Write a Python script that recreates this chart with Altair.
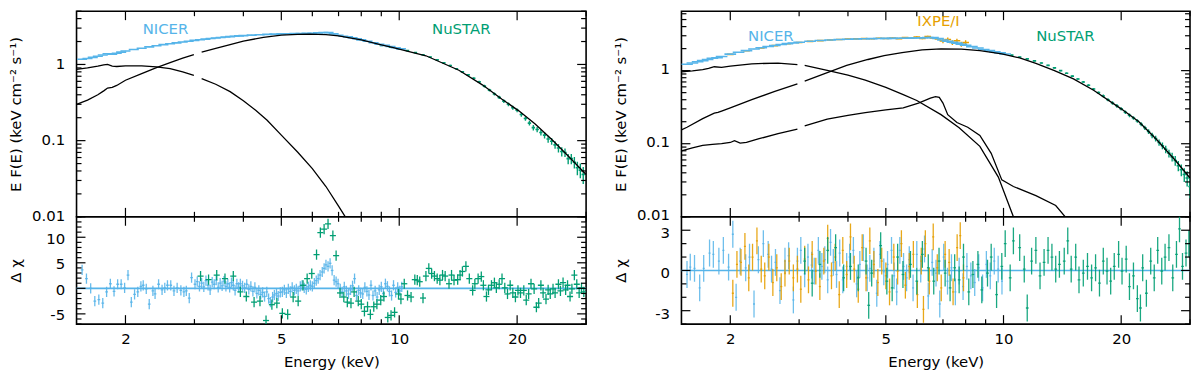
import altair as alt
import pandas as pd

FONT = "DejaVu Sans"
BLUE = "#56B4E9"
GREEN = "#009E73"
ORANGE = "#E69F00"

# ---------------- axis ticks ----------------
X_MAJ = [2, 5, 10, 20]
X_MIN = [3, 4, 6, 7, 8, 9, 30]
Y_MAJ = [0.01, 0.1, 1]
Y_MIN_L = [0.02, 0.03, 0.04, 0.05, 0.06, 0.07, 0.08, 0.09,
           0.2, 0.3, 0.4, 0.5, 0.6, 0.7, 0.8, 0.9, 2, 3, 4, 5]
Y_MIN_R = Y_MIN_L + [6]
R_MAJ_L = [-5, 0, 5, 10]
R_MIN_L = [-7, -6, -4, -3, -2, -1, 1, 2, 3, 4, 6, 7, 8, 9, 11, 12, 13, 14]
R_MAJ_R = [-3, 0, 3]
R_MIN_R = [-4, -2, -1, 1, 2, 4]

# ================= LEFT PANEL =================
L_DISK_E = [1.5, 1.6, 1.7, 1.76, 1.8, 1.85, 1.9, 2.0, 2.2, 2.4, 2.6, 2.8, 2.99,
            3.13, 3.4, 3.7, 4.0, 4.3, 4.6, 5.0, 5.5, 6.0, 6.5, 7.0, 7.3, 7.6]
L_DISK_F = [0.86, 0.90, 0.95, 0.99, 1.00, 0.95, 0.94, 0.96, 0.96, 0.93, 0.88, 0.80, 0.72,
            0.65, 0.55, 0.44, 0.333, 0.25, 0.185, 0.118, 0.071, 0.043, 0.025, 0.0138, 0.0098, 0.0072]
L_DISK_SEG = [1] * 13 + [2] * 13

L_COMP_E = [1.5, 1.6, 1.7, 1.76, 1.8, 1.85, 1.9, 2.0, 2.2, 2.4, 2.6, 2.8, 2.99,
            3.13, 3.4, 3.7, 4.0, 4.5, 5.0, 5.5, 5.9, 6.5, 7.0, 8.0, 9.0, 9.6, 10.0,
            11.7, 14.2, 16.3, 18.3, 20.2, 22.2, 24.6, 27.0, 30.0]
L_COMP_F = [0.30, 0.34, 0.40, 0.45, 0.49, 0.50, 0.53, 0.62, 0.76, 0.91, 1.06, 1.21, 1.35,
            1.45, 1.62, 1.82, 2.02, 2.27, 2.42, 2.49, 2.50, 2.46, 2.37, 2.10, 1.81, 1.67, 1.59,
            1.30, 0.84, 0.54, 0.35, 0.246, 0.167, 0.102, 0.063, 0.036]
L_COMP_SEG = [1] * 13 + [2] * 23

L_NI_E = [1.55, 1.6, 1.65, 1.7, 1.75, 1.8, 1.85, 1.9, 1.95,
          2.0, 2.1, 2.2, 2.3, 2.4, 2.5, 2.6, 2.7, 2.8, 2.9,
          3.0, 3.1, 3.2, 3.3, 3.4, 3.5, 3.6, 3.7, 3.8, 3.9,
          4.0, 4.2, 4.4, 4.6, 4.8, 5.0, 5.2, 5.4, 5.6, 5.8,
          6.0, 6.2, 6.4, 6.6, 6.8, 7.0, 7.2, 7.4, 7.6, 7.8,
          8.0, 8.3, 8.6, 8.9, 9.2, 9.5, 9.8, 10.1]
L_NI_F = [1.17, 1.20, 1.24, 1.28, 1.33, 1.38, 1.36, 1.40, 1.45,
          1.50, 1.57, 1.63, 1.70, 1.76, 1.82, 1.87, 1.92, 1.97, 2.02,
          2.07, 2.11, 2.15, 2.19, 2.23, 2.26, 2.29, 2.32, 2.35, 2.37,
          2.39, 2.43, 2.46, 2.48, 2.50, 2.52, 2.53, 2.54, 2.55, 2.56,
          2.57, 2.60, 2.63, 2.62, 2.52, 2.42, 2.35, 2.30, 2.24, 2.17,
          2.10, 2.02, 1.93, 1.84, 1.78, 1.72, 1.66, 1.60]
L_NI_ERR = [0.015] * 19 + [0.02] * 30 + [0.03] * 8

L_NU_E = [9.0, 9.5, 10.0, 10.5, 11.0, 11.5, 12.0, 12.5, 13.0, 13.5,
          14.0, 14.5, 15.0, 15.5, 16.0, 16.5, 17.0, 17.5, 18.0, 18.5,
          19.0, 19.5, 20.0, 20.5, 21.0, 21.5, 22.0, 22.5, 23.0, 23.5,
          24.0, 24.5, 25.0, 25.5, 26.0, 26.5, 27.0, 27.5, 28.0, 28.5,
          29.0, 29.5]
L_NU_F = [1.78, 1.69, 1.60, 1.52, 1.43, 1.34, 1.25, 1.15, 1.05, 0.97,
          0.88, 0.80, 0.73, 0.66, 0.59, 0.52, 0.46, 0.41, 0.37, 0.33,
          0.30, 0.27, 0.25, 0.22, 0.195, 0.17, 0.148, 0.14, 0.128, 0.118,
          0.105, 0.098, 0.088, 0.080, 0.072, 0.070, 0.058, 0.058, 0.052, 0.044,
          0.041, 0.036]
L_NU_ERR = [0.02] * 18 + [0.018, 0.018, 0.017, 0.016, 0.015, 0.014, 0.013, 0.012,
                          0.012, 0.011, 0.011, 0.011, 0.011, 0.010, 0.010, 0.010,
                          0.010, 0.009, 0.009, 0.009, 0.009, 0.009, 0.009, 0.009]

L_NI_RE = [1.55, 1.59, 1.63, 1.67, 1.71, 1.75, 1.79, 1.83, 1.87, 1.91,
           1.95, 1.99, 2.03, 2.07, 2.11, 2.15, 2.19, 2.22, 2.26, 2.30,
           2.35, 2.38, 2.43, 2.48, 2.52, 2.56, 2.61, 2.66, 2.71, 2.77,
           2.82, 2.86, 2.91, 2.95, 3.01, 3.05, 3.09, 3.13, 3.17, 3.21,
           3.25, 3.29, 3.33, 3.37, 3.41, 3.45, 3.49, 3.53, 3.57, 3.61,
           3.65, 3.69, 3.73, 3.77, 3.81, 3.85, 3.89, 3.93, 3.98, 4.03,
           4.08, 4.13, 4.18, 4.23, 4.28, 4.33, 4.38, 4.43, 4.48, 4.53,
           4.59, 4.64, 4.69, 4.75, 4.80, 4.86, 4.91, 4.97, 5.03, 5.09,
           5.15, 5.21, 5.27, 5.33, 5.40, 5.46, 5.52, 5.59, 5.65, 5.72,
           5.79, 5.86, 5.93, 6.00, 6.07, 6.14, 6.21, 6.28, 6.36, 6.43,
           6.50, 6.58, 6.66, 6.74, 6.82, 6.90, 6.98, 7.07, 7.15, 7.24,
           7.33, 7.42, 7.51, 7.60, 7.69, 7.78, 7.88, 7.97, 8.07, 8.17,
           8.27, 8.37, 8.47, 8.57, 8.68, 8.78, 8.89, 9.00, 9.11, 9.22,
           9.33, 9.44, 9.56, 9.67, 9.79, 9.91, 10.03, 10.15]
L_NI_R = [3.6, 1.9, 0.0, -2.5, -2.2, -2.9, -0.7, 0.9, -0.6, 0.8,
          0.8, 0.1, 2.6, -2.7, -1.2, -0.7, 0.4, 0.6, -0.1, -3.1,
          -0.5, -1.1, 0.8, -0.3, 0.1, 0.6, 0.6, -0.5, 0.1, -0.4,
          -0.7, -0.5, -1.9, 2.1, 0.8, 1.3, 0.4, 1.0, 0.3, 1.5,
          0.6, -0.3, 1.2, 0.8, 1.6, 0.2, 1.0, 0.5, 1.4, 0.4,
          0.9, 0.2, 1.1, 0.6, -0.4, 0.9, 0.2, 0.9, 0.5, 0.1,
          0.8, -0.2, 0.4, -0.6, 0.2, -1.0, -0.4, -1.2, -0.8, -1.6,
          -0.7, -2.0, -2.7, -1.7, -1.3, -1.0, -1.5, -0.8, -0.7, -0.3,
          -0.9, -0.1, -0.6, 0.2, -0.4, -0.1, -0.5, 0.4, 0.6, 0.1,
          -0.2, 0.3, 0.6, 0.4, 1.0, 1.5, 1.9, 2.6, 3.2, 3.9,
          4.6, 4.3, 4.9, 3.5, 1.6, 1.3, 0.9, -0.1, -0.7, 0.3,
          -0.5, -1.1, -0.3, 0.5, 1.9, -1.4, -0.4, -0.9, -1.1, 0.2,
          -0.6, -1.3, 0.6, -1.4, -0.5, -1.7, -0.3, 0.3, -1.0, 0.9,
          0.4, -0.6, -1.4, 0.6, -0.8, 0.2, -0.5, 0.3]

L_NU_RE = [3.11, 3.26, 3.42, 3.59, 3.77, 3.93, 4.07, 4.26, 4.41, 4.57,
           4.73, 4.87, 5.03, 5.19, 5.36, 5.52, 5.68, 5.82, 5.98, 6.15,
           6.29, 6.43, 6.58, 6.77, 6.90, 7.06, 7.22, 7.37, 7.53, 7.67,
           7.86, 8.00, 8.15, 8.30, 8.44, 8.61, 8.77, 8.97, 9.14, 9.35,
           9.53, 9.73, 9.96, 10.1, 10.3, 10.5, 10.72, 10.96, 11.12, 11.28,
           11.5, 11.7, 11.9, 12.1, 12.3, 12.5, 12.7, 12.9, 13.1, 13.4,
           13.6, 13.8, 14.1, 14.3, 14.5, 14.8, 15.1, 15.4, 15.6, 15.9,
           16.2, 16.4, 16.7, 16.9, 17.2, 17.5, 17.7, 18.0, 18.3, 18.6,
           18.9, 19.2, 19.5, 19.8, 20.1, 20.4, 20.8, 21.1, 21.4, 21.7,
           22.1, 22.4, 22.7, 23.0, 23.3, 23.7, 24.0, 24.3, 24.7, 25.0,
           25.5, 25.8, 26.2, 26.6, 26.9, 27.3, 27.6, 28.0, 28.4, 28.8,
           29.2, 29.6]
L_NU_R = [2.4, 1.7, 2.6, 1.9, 2.4, -0.7, -1.6, -2.7, -2.5, -6.3,
          -3.2, -2.9, -4.9, -5.1, -1.7, -2.5, 0.6, 1.9, 2.9, 6.6,
          10.9, 11.6, 12.6, 10.3, 6.4, -0.9, -1.7, -2.7, -2.9, -0.7,
          -2.5, -3.1, -4.5, -3.6, -5.1, -3.6, -3.1, -2.3, -1.6, -5.7,
          -5.3, -4.7, -1.1, -2.1, 0.9, -1.4, -1.7, 1.7, 1.6, 1.3,
          -1.9, 2.4, 3.9, 2.9, 2.4, 1.9, 1.6, 2.6, 2.4, 0.9,
          2.6, 1.6, 1.7, 2.6, 3.3, 4.3, 1.9, -0.4, 0.9, 1.9,
          2.3, 0.6, -1.6, -0.3, 0.6, 1.1, 0.1, 0.8, 1.9, 0.1,
          -1.1, 0.6, -0.9, -1.7, -0.4, -0.9, -0.4, -2.3, -1.1, 0.9,
          -0.1, -3.7, -2.9, 0.6, -0.9, -2.1, -0.3, -1.1, -0.1, -0.9,
          0.8, -0.5, 1.1, -0.3, 0.6, -1.6, -0.1, 2.6, 0.8, -0.9,
          0.1, -0.7]

# ================= RIGHT PANEL =================
R_DISK_E = [1.5, 1.6, 1.7, 1.76, 1.82, 1.9, 2.0, 2.27, 2.65, 2.97,
            3.1, 3.54, 4.0, 4.43, 5.0, 5.54, 6.0, 6.92, 7.7, 8.7, 9.7, 10.6, 11.2]
R_DISK_F = [0.96, 0.99, 1.03, 1.07, 1.13, 1.11, 1.15, 1.24, 1.27, 1.21,
            1.18, 1.01, 0.87, 0.74, 0.59, 0.47, 0.39, 0.25, 0.165, 0.092, 0.035, 0.010, 0.005]
R_DISK_SEG = [1] * 10 + [2] * 13

R_COMP_E = [1.5, 1.55, 1.7, 1.82, 1.86, 1.9, 2.0, 2.27, 2.6, 2.97,
            3.1, 3.5, 3.97, 4.5, 4.95, 5.5, 6.19, 6.92, 7.8, 8.7, 9.9, 11.0,
            12.1, 13.5, 15.1, 17.0, 20.0, 22.2, 24.6, 27.6, 30.0]
R_COMP_F = [0.155, 0.168, 0.22, 0.262, 0.268, 0.28, 0.31, 0.40, 0.52, 0.66,
            0.72, 0.92, 1.18, 1.42, 1.60, 1.76, 1.92, 1.99, 1.97, 1.88, 1.70, 1.49,
            1.26, 1.0, 0.77, 0.54, 0.30, 0.20, 0.115, 0.058, 0.034]
R_COMP_SEG = [1] * 10 + [2] * 21

R_REFL_E = [1.5, 1.6, 1.7, 1.8, 1.9, 2.0, 2.05, 2.12, 2.2, 2.37, 2.65, 2.97,
            3.1, 3.54, 4.0, 4.43, 5.0, 5.54, 6.06, 6.5, 6.7, 6.85, 7.0, 7.2, 7.6,
            8.1, 8.7, 9.3, 9.9, 10.6, 12.1, 13.6, 14.5]
R_REFL_F = [0.080, 0.088, 0.095, 0.098, 0.100, 0.104, 0.110, 0.102, 0.104, 0.117, 0.137, 0.158,
            0.176, 0.217, 0.245, 0.266, 0.29, 0.31, 0.36, 0.42, 0.44, 0.43, 0.36, 0.25, 0.195,
            0.168, 0.13, 0.074, 0.032, 0.026, 0.0195, 0.0143, 0.0095]
R_REFL_SEG = [1] * 12 + [2] * 21

R_NI_E = [1.55, 1.6, 1.65, 1.7, 1.75, 1.8, 1.85, 1.9,
          2.0, 2.1, 2.2, 2.3, 2.4, 2.5, 2.6, 2.7, 2.8, 2.9,
          3.0, 3.2, 3.4, 3.6, 3.8,
          4.0, 4.2, 4.4, 4.6, 4.8, 5.0, 5.2, 5.4, 5.6, 5.8,
          6.0, 6.2, 6.4, 6.6, 6.8, 7.0, 7.2, 7.4, 7.6, 7.8,
          8.0, 8.3, 8.6, 8.9, 9.2, 9.5, 9.8, 10.1]
R_NI_F = [1.22, 1.27, 1.32, 1.37, 1.42, 1.48, 1.50, 1.56,
          1.68, 1.78, 1.88, 1.98, 2.06, 2.14, 2.21, 2.28, 2.34, 2.39,
          2.44, 2.52, 2.58, 2.62, 2.66,
          2.69, 2.71, 2.73, 2.74, 2.75, 2.76, 2.76, 2.77, 2.78, 2.79,
          2.80, 2.81, 2.83, 2.84, 2.75, 2.62, 2.52, 2.45, 2.38, 2.30,
          2.22, 2.13, 2.04, 1.95, 1.88, 1.81, 1.75, 1.69]
R_NI_ERR = [0.015] * 18 + [0.02] * 25 + [0.03] * 8

R_IX_E = [2.0, 2.2, 2.4, 2.6, 2.8, 3.0, 3.2, 3.4, 3.6, 3.8,
          4.0, 4.2, 4.4, 4.6, 4.8, 5.0, 5.2, 5.4, 5.6, 5.8,
          6.0, 6.2, 6.4, 6.6, 6.8, 7.0, 7.2, 7.4, 7.6, 7.8, 8.0]
R_IX_F = [1.67, 1.87, 2.05, 2.20, 2.33, 2.43, 2.51, 2.57, 2.62, 2.66,
          2.70, 2.72, 2.74, 2.73, 2.77, 2.75, 2.80, 2.74, 2.83, 2.77,
          2.88, 2.76, 2.92, 2.80, 2.72, 2.55, 2.66, 2.42, 2.56, 2.30, 2.43]
R_IX_ERR = [0.02] * 10 + [0.04] * 10 + [0.08] * 5 + [0.18] * 6

R_NU_E = [10.0, 10.5, 11.0, 11.5, 12.0, 12.5, 13.0, 13.5, 14.0, 14.5,
          15.0, 15.5, 16.0, 16.5, 17.0, 17.5, 18.0, 18.5, 19.0, 19.5,
          20.0, 20.5, 21.0, 21.5, 22.0, 22.5, 23.0, 23.5, 24.0, 24.5,
          25.0, 25.5, 26.0, 26.5, 27.0, 27.5, 28.0, 28.5, 29.0, 29.5, 30.0]
R_NU_F = [1.72, 1.63, 1.54, 1.45, 1.36, 1.27, 1.18, 1.09, 1.00, 0.92,
          0.84, 0.77, 0.70, 0.63, 0.56, 0.50, 0.45, 0.40, 0.36, 0.33,
          0.30, 0.27, 0.245, 0.225, 0.205, 0.185, 0.165, 0.147, 0.13, 0.118,
          0.104, 0.094, 0.084, 0.074, 0.066, 0.059, 0.050, 0.044, 0.038, 0.034, 0.026]
R_NU_ERR = [0.02] * 20 + [0.016, 0.015, 0.014, 0.013, 0.012, 0.012, 0.011, 0.011, 0.011, 0.011,
                          0.010, 0.010, 0.010, 0.009, 0.009, 0.009, 0.008, 0.008, 0.008, 0.008, 0.008]

R_NI_RE = [1.55, 1.58, 1.62, 1.67, 1.71, 1.77, 1.81, 1.87, 1.92, 1.98,
           2.03, 2.07, 2.12, 2.19, 2.24, 2.30, 2.36, 2.43, 2.50, 2.55,
           2.61, 2.68, 2.76, 2.82, 2.90, 2.97, 3.03, 3.10, 3.16, 3.23,
           3.28, 3.36, 3.43, 3.49, 3.55, 3.61, 3.67, 3.74, 3.81, 3.88,
           3.97, 4.04, 4.13, 4.21, 4.29, 4.38, 4.48, 4.55, 4.66, 4.74,
           4.83, 4.94, 5.05, 5.17, 5.25, 5.33, 5.43, 5.55, 5.65, 5.74,
           5.87, 6.0, 6.14, 6.28, 6.42, 6.57, 6.72, 6.87, 7.03, 7.19,
           7.36, 7.53, 7.7, 7.88, 8.06, 8.25, 8.44, 8.64, 8.84, 9.04,
           9.25, 9.47, 9.69, 9.91]
R_NI_R = [-0.3, 0.25, 0.15, -1.3, 0.15, 1.3, 1.2, 0.7, 1.5, 0.25,
          2.7, -2.0, 0.7, 0.2, 1.0, -2.5, 0.8, 2.0, 1.2, 0.1,
          0.6, -1.5, 0.7, 1.1, -2.2, 0.7, 1.5, -0.25, 1.0, 0.4,
          -0.05, 1.5, 0.3, 0.8, -0.7, 2.1, 0.6, -0.3, 1.3, -0.7,
          0.3, 1.0, 1.5, -1.0, 0.45, 1.7, -0.55, 0.15, 0.7, -1.7,
          1.2, -0.1, 0.45, 1.5, -0.4, -1.6, 1.5, 0.3, -0.55, 0.8,
          -1.3, 1.2, 0.1, 1.6, -1.9, 0.6, -0.2, -2.5, 1.0, -0.8,
          0.2, -1.6, -0.05, -1.2, 0.3, -0.4, -0.9, 0.2, -1.3, 0.45,
          -0.4, 0.7, 0.1, -0.8]

R_IX_RE = [2.03, 2.08, 2.13, 2.18, 2.23, 2.28, 2.34, 2.40, 2.45, 2.51,
           2.57, 2.63, 2.70, 2.76, 2.83, 2.90, 2.97, 3.03, 3.10, 3.17,
           3.24, 3.31, 3.39, 3.47, 3.55, 3.63, 3.71, 3.80, 3.88, 3.97,
           4.06, 4.15, 4.25, 4.35, 4.45, 4.55, 4.66, 4.77, 4.88, 5.0,
           5.11, 5.24, 5.36, 5.48, 5.61, 5.74, 5.88, 6.02, 6.16, 6.24,
           6.31, 6.46, 6.61, 6.77, 6.93, 7.09, 7.26, 7.43, 7.61, 7.75,
           7.9]
R_IX_R = [-1.7, 0.45, 0.6, 1.8, -0.55, 1.0, 2.2, 0.1, -0.4, 1.0,
          -0.9, 0.2, -1.2, -0.2, 0.7, -0.55, 0.1, -1.4, 0.85, -0.7,
          1.2, -0.05, -1.2, 0.7, 2.4, -0.4, 1.0, -1.8, 1.5, -0.3,
          2.5, 0.1, -1.4, 1.7, -0.55, 2.2, 0.45, -0.9, 0.7, -0.4,
          -1.6, 1.0, -0.05, 2.0, -1.1, 0.3, 1.2, -1.8, 0.7, -2.9,
          2.0, -0.8, 2.5, 0.2, -1.3, 1.2, 0.6, -1.6, 1.7, 2.6,
          -0.55]

R_NU_RE = [3.10, 3.24, 3.39, 3.55, 3.72, 3.90, 4.06, 4.25, 4.45, 4.52,
           4.60, 4.85, 5.03, 5.19, 5.36, 5.53, 5.78, 6.0, 6.2, 6.42,
           6.63, 6.84, 7.09, 7.3, 7.5, 7.7, 7.9, 8.15, 8.35, 8.6,
           8.8, 9.1, 9.3, 9.6, 9.9, 10.1, 10.4, 10.6, 11.0, 11.3,
           11.5, 11.8, 12.1, 12.4, 12.7, 13.0, 13.3, 13.6, 13.9, 14.3,
           14.6, 14.9, 15.3, 15.6, 16.0, 16.4, 16.8, 17.2, 17.6, 18.0,
           18.4, 18.8, 19.2, 19.7, 20.1, 20.6, 21.0, 21.5, 22.0, 22.4,
           22.7, 23.2, 23.8, 24.3, 24.8, 25.4, 25.9, 26.5, 27.1, 27.7,
           28.2, 28.7, 29.3, 29.8]
R_NU_R = [0.7, -0.95, 0.45, 1.5, 1.7, -0.55, 0.3, -0.55, 0.7, -2.6,
          -0.2, 1.85, -0.8, -1.3, 1.0, -0.3, 0.45, -0.8, 1.2, 0.2,
          -0.8, 0.7, -0.2, -1.3, 0.2, -0.7, 1.0, -1.6, -0.3, 0.45,
          -1.45, -0.2, 1.0, -1.8, 0.3, 2.0, -0.55, 2.2, 1.7, 0.1,
          -2.8, 0.7, 1.5, -0.4, 0.6, 1.5, 1.0, 0.1, 0.45, 0.7,
          2.2, 0.1, 1.0, -0.7, -0.2, 0.3, -0.55, 0.2, -0.95, 0.7,
          -0.05, -0.8, 0.3, 1.2, -0.05, 0.85, -1.2, -0.4, -2.1, -2.8,
          0.2, -1.7, 0.7, -0.55, 1.5, -0.05, 1.0, 1.7, -0.55, 1.2,
          3.1, 0.3, 1.3, 2.0]

# ---------------- scales & sizes ----------------
XS = alt.Scale(type="log", domain=[1.5, 30], nice=False)
YS_L = alt.Scale(type="log", domain=[0.01, 5], nice=False)
YS_R = alt.Scale(type="log", domain=[0.01, 6.5], nice=False)
RS_L = alt.Scale(domain=[-7, 14], nice=False, zero=False)
RS_R = alt.Scale(domain=[-4, 4], nice=False, zero=False)
W_L, W_R, H_TOP, H_BOT = 513, 512, 207, 108
MAJ_LEN, MIN_LEN = 9, 5

COMMON = dict(domain=False, grid=False, ticks=False, tickSize=0,
              labelOverlap=False, labelFlush=False, labelBound=False,
              labelFont=FONT, labelFontSize=15, labelColor="black",
              labelExpr="'' + datum.value",
              titleFont=FONT, titleFontSize=15, titleFontWeight="normal", titleColor="black")


def ax_lab(orient, values, title, pad, ext, tpad, loff=0):
    return alt.Axis(orient=orient, values=values, labelPadding=pad, title=title,
                    minExtent=ext, maxExtent=ext, titlePadding=tpad, labelOffset=loff, **COMMON)


def carrier_x(xax):
    """Invisible layer that owns the x axis (labels + title)."""
    return alt.Chart(pd.DataFrame({"t": X_MAJ})).mark_rule(opacity=0).encode(
        x=alt.X("t:Q", scale=XS, axis=xax))


def carrier_y(vals, ys, yax):
    """Invisible layer that owns the y axis (labels + title)."""
    return alt.Chart(pd.DataFrame({"t": vals})).mark_rule(opacity=0).encode(
        y=alt.Y("t:Q", scale=ys, axis=yax))


def ticks(W, H, ys, ymaj, ymin):
    """Inward tick marks on all four sides, positioned by the scales."""
    out = []
    for vals, ln in ((X_MAJ, MAJ_LEN), (X_MIN, MIN_LEN)):
        base = alt.Chart(pd.DataFrame({"t": vals})).mark_rule(color="black", strokeWidth=1.2)
        xe = alt.X("t:Q", scale=XS, axis=None)
        out.append(base.encode(x=xe, y=alt.value(H), y2=alt.value(H - ln)))
        out.append(base.encode(x=xe, y=alt.value(0), y2=alt.value(ln)))
    for vals, ln in ((ymaj, MAJ_LEN), (ymin, MIN_LEN)):
        base = alt.Chart(pd.DataFrame({"t": vals})).mark_rule(color="black", strokeWidth=1.2)
        ye = alt.Y("t:Q", scale=ys, axis=None)
        out.append(base.encode(y=ye, x=alt.value(0), x2=alt.value(ln)))
        out.append(base.encode(y=ye, x=alt.value(W), x2=alt.value(W - ln)))
    return out


def curve(E, F, seg, ys):
    d = pd.DataFrame({"E": E, "F": F, "seg": seg})
    return alt.Chart(d).mark_line(color="black", strokeWidth=1.3, clip=True).encode(
        x=alt.X("E:Q", scale=XS, axis=None), y=alt.Y("F:Q", scale=ys, axis=None), detail="seg:N")


def spec(E, F, err, color, hfrac, ys, vw=1.4, hw=1.6):
    d = pd.DataFrame({"E": E, "F": F, "err": err})
    base = alt.Chart(d).transform_calculate(
        lo="datum.F - datum.err", hi="datum.F + datum.err",
        elo=f"datum.E / {1 + hfrac}", ehi=f"datum.E * {1 + hfrac}")
    v = base.mark_rule(color=color, strokeWidth=vw, clip=True).encode(
        x=alt.X("E:Q", scale=XS, axis=None), y=alt.Y("lo:Q", scale=ys, axis=None), y2="hi")
    h = base.mark_rule(color=color, strokeWidth=hw, clip=True).encode(
        x=alt.X("elo:Q", scale=XS, axis=None), x2="ehi", y=alt.Y("F:Q", scale=ys, axis=None))
    return [v, h]


def resid(E, R, color, hfrac, rs, op=1.0):
    d = pd.DataFrame({"E": E, "r": R})
    base = alt.Chart(d).transform_calculate(
        lo="datum.r - 1", hi="datum.r + 1",
        elo=f"datum.E / {1 + hfrac}", ehi=f"datum.E * {1 + hfrac}")
    v = base.mark_rule(color=color, strokeWidth=1.3, opacity=op, clip=True).encode(
        x=alt.X("E:Q", scale=XS, axis=None), y=alt.Y("lo:Q", scale=rs, axis=None), y2="hi")
    h = base.mark_rule(color=color, strokeWidth=1.3, opacity=op, clip=True).encode(
        x=alt.X("elo:Q", scale=XS, axis=None), x2="ehi", y=alt.Y("r:Q", scale=rs, axis=None))
    return [v, h]


def label(txt, e, f, color, ys):
    return alt.Chart(pd.DataFrame({"k": [0]})).mark_text(
        text=txt, color=color, font=FONT, fontSize=15, align="center", baseline="middle").encode(
        x=alt.X(datum=e, type="quantitative", scale=XS, axis=None),
        y=alt.Y(datum=f, type="quantitative", scale=ys, axis=None))


def zero_line(rs):
    return alt.Chart(pd.DataFrame({"z": [0]})).mark_rule(color=BLUE, strokeWidth=1.6).encode(
        y=alt.Y("z:Q", scale=rs, axis=None))


YTITLE = "E F(E) (keV cm\u207b\u00b2 s\u207b\u00b9)"
XTITLE = "Energy (keV)"
RTITLE = "\u0394 \u03c7"
YPAD, YEXT, YTP = 12, 49, 4
XPAD, XEXT, XTP = 8, 22, 9

# ---------- left ----------
top_L = alt.layer(
    carrier_y(Y_MAJ, YS_L, ax_lab("left", Y_MAJ, YTITLE, YPAD, YEXT, YTP, loff=-1)),
    *spec(L_NU_E, L_NU_F, L_NU_ERR, GREEN, 0.01, YS_L),
    *spec(L_NI_E, L_NI_F, L_NI_ERR, BLUE, 0.03, YS_L),
    curve(L_DISK_E, L_DISK_F, L_DISK_SEG, YS_L),
    curve(L_COMP_E, L_COMP_F, L_COMP_SEG, YS_L),
    label("NICER", 2.53, 2.9, BLUE, YS_L),
    label("NuSTAR", 14.4, 2.9, GREEN, YS_L),
    *ticks(W_L, H_TOP, YS_L, Y_MAJ, Y_MIN_L),
).resolve_axis(x="independent", y="independent").properties(width=W_L, height=H_TOP)

bot_L = alt.layer(
    carrier_x(ax_lab("bottom", X_MAJ, XTITLE, XPAD, XEXT, XTP)),
    carrier_y(R_MAJ_L, RS_L, ax_lab("left", R_MAJ_L, RTITLE, YPAD, YEXT, YTP, loff=1)),
    zero_line(RS_L),
    *resid(L_NI_RE, L_NI_R, BLUE, 0.008, RS_L, op=0.9),
    *resid(L_NU_RE, L_NU_R, GREEN, 0.018, RS_L),
    *ticks(W_L, H_BOT, RS_L, R_MAJ_L, R_MIN_L),
).resolve_axis(x="independent", y="independent").properties(width=W_L, height=H_BOT)

# ---------- right ----------
top_R = alt.layer(
    carrier_y(Y_MAJ, YS_R, ax_lab("left", Y_MAJ, YTITLE, YPAD, YEXT, YTP, loff=-2.5)),
    *spec(R_NU_E, R_NU_F, R_NU_ERR, GREEN, 0.01, YS_R),
    *spec(R_IX_E, R_IX_F, R_IX_ERR, ORANGE, 0.02, YS_R),
    *spec(R_NI_E, R_NI_F, R_NI_ERR, BLUE, 0.035, YS_R),
    curve(R_DISK_E, R_DISK_F, R_DISK_SEG, YS_R),
    curve(R_COMP_E, R_COMP_F, R_COMP_SEG, YS_R),
    curve(R_REFL_E, R_REFL_F, R_REFL_SEG, YS_R),
    label("NICER", 2.54, 3.0, BLUE, YS_R),
    label("IXPE/I", 6.82, 4.8, ORANGE, YS_R),
    label("NuSTAR", 14.4, 3.0, GREEN, YS_R),
    *ticks(W_R, H_TOP, YS_R, Y_MAJ, Y_MIN_R),
).resolve_axis(x="independent", y="independent").properties(width=W_R, height=H_TOP)

bot_R = alt.layer(
    carrier_x(ax_lab("bottom", X_MAJ, XTITLE, XPAD, XEXT, XTP)),
    carrier_y(R_MAJ_R, RS_R, ax_lab("left", R_MAJ_R, RTITLE, YPAD, YEXT, YTP, loff=2.5)),
    zero_line(RS_R),
    *resid(R_NI_RE, R_NI_R, BLUE, 0.006, RS_R, op=0.85),
    *resid(R_IX_RE, R_IX_R, ORANGE, 0.006, RS_R, op=0.9),
    *resid(R_NU_RE, R_NU_R, GREEN, 0.008, RS_R, op=0.9),
    *ticks(W_R, H_BOT, RS_R, R_MAJ_R, R_MIN_R),
).resolve_axis(x="independent", y="independent").properties(width=W_R, height=H_BOT)

left = alt.vconcat(top_L, bot_L, spacing=0, bounds="flush")
right = alt.vconcat(top_R, bot_R, spacing=0, bounds="flush")

chart = alt.hconcat(left, right, spacing=25).properties(padding=0).configure(
    font=FONT).configure_view(stroke="black", strokeWidth=1.6)

chart.save("out.html", embed_options={"renderer": "svg", "actions": False})
